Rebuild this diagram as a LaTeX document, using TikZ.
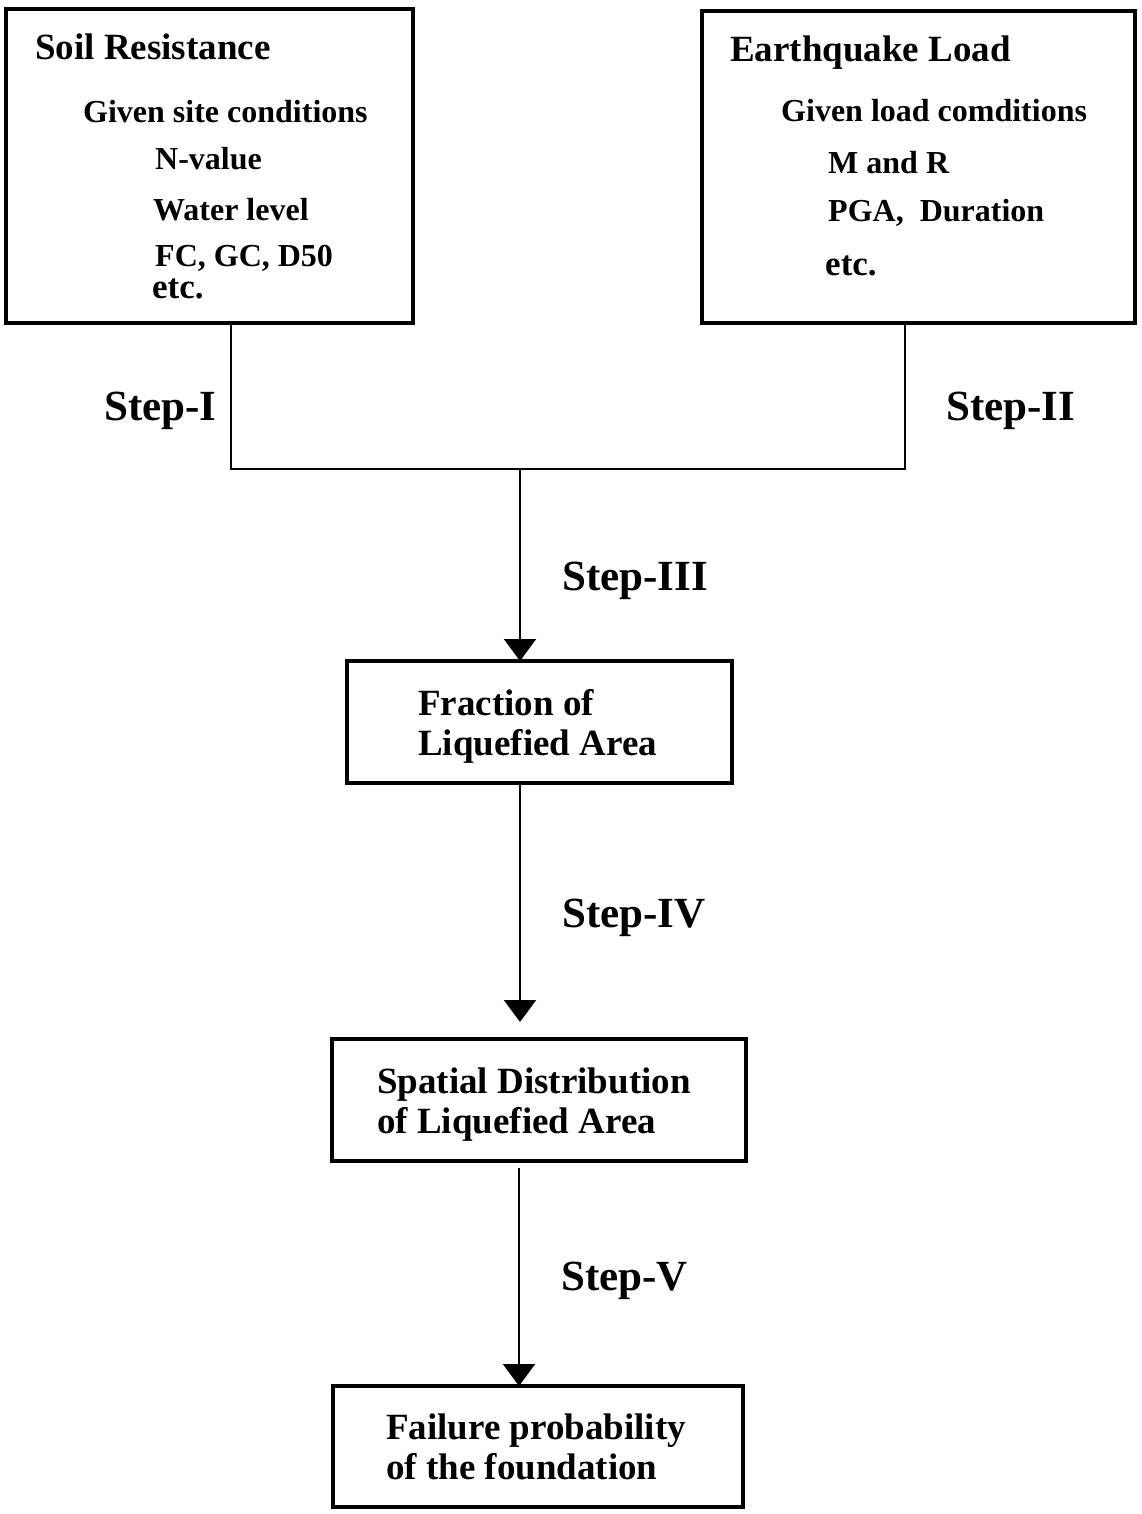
\documentclass[tikz,border=0pt]{standalone}
\usepackage{fontspec}
\setmainfont{Liberation Serif}
\usetikzlibrary{arrows.meta}
\begin{document}
\begin{tikzpicture}[x=1pt,y=-1pt,
  box/.style={draw, line width=4pt, inner sep=0pt, outer sep=0pt},
  conn/.style={line width=2pt},
  arr/.style={line width=2pt, -{Triangle[width=32pt,length=22pt]}},
  ttl/.style={font=\fontsize{37}{40}\selectfont\bfseries, anchor=base west, inner sep=0pt},
  sub/.style={font=\fontsize{32}{36}\selectfont\bfseries, anchor=base west, inner sep=0pt},
  etcl/.style={font=\fontsize{35}{38}\selectfont\bfseries, anchor=base west, inner sep=0pt},
  steplbl/.style={font=\fontsize{43}{48}\selectfont\bfseries, anchor=base west, inner sep=0pt}]
\useasboundingbox (0,0) rectangle (1142,1514);

% boxes
\node[box, minimum width=407pt, minimum height=314pt] (soil) at (209.5,166) {};
\node[box, minimum width=433pt, minimum height=312pt] (eq) at (918.5,167) {};
\node[box, minimum width=385pt, minimum height=122pt] (frac) at (539.5,722) {};
\node[box, minimum width=414pt, minimum height=122pt] (spat) at (539,1100) {};
\node[box, minimum width=410pt, minimum height=121pt] (fail) at (538,1446.5) {};

% soil text
\node[ttl] (t1) at (35,60) {Soil Resistance};
\node[sub] (t2) at (83,123) {Given site conditions};
\node[sub] (t3) at (155,170) {N-value};
\node[sub] (t4) at (153,221) {Water level};
\node[sub] (t5) at (155,266) {FC, GC, D50};
\node[etcl] (t6) at (152,298) {etc.};

% earthquake text
\node[ttl] (e1) at (730,62) {Earthquake Load};
\node[sub] (e2) at (781,122) {Given load comditions};
\node[sub] (e3) at (828,174) {M and R};
\node[sub] (e4) at (828,222) {PGA,\ \ Duration};
\node[etcl] (e5) at (825,275) {etc.};

% box texts
\node[ttl] (f1) at (418,715) {Fraction of};
\node[ttl] (f2) at (418,755) {Liquefied Area};
\node[ttl] (s1) at (377,1093) {Spatial Distribution};
\node[ttl] (s2) at (377,1133) {of Liquefied Area};
\node[ttl] (p1) at (386,1439) {Failure probability};
\node[ttl] (p2) at (386,1479) {of the foundation};

% step labels
\node[steplbl] (st1) at (104,420) {Step-I};
\node[steplbl] (st2) at (946,420) {Step-II};
\node[steplbl] (st3) at (562,590) {Step-III};
\node[steplbl] (st4) at (562,927) {Step-IV};
\node[steplbl] (st5) at (561,1290) {Step-V};

% connectors
\coordinate (jl) at (231,469);
\coordinate (jr) at (905,469);
\coordinate (jm) at (520,469);
\coordinate (a4) at (520,1022);
\draw[conn] (soil.south -| jl) -- (jl) -- (jr) -- (eq.south -| jr);
\draw[arr] (jm) -- (frac.north -| jm);
\draw[arr] (frac.south -| a4) -- (a4);
\draw[arr] ([yshift=-7pt]spat.south -| 519,0) -- (fail.north -| 519,0);
\end{tikzpicture}
\end{document}
